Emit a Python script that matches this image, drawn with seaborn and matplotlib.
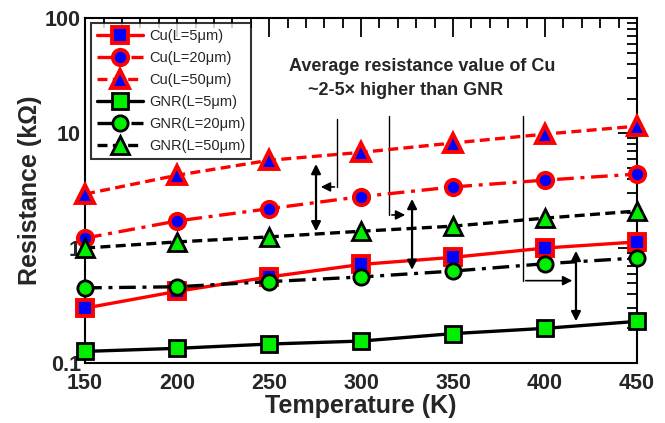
import numpy as np
import pandas as pd
import matplotlib
matplotlib.use("Agg")
import matplotlib.pyplot as plt
import seaborn as sns
from matplotlib.ticker import LogLocator, FixedLocator, MultipleLocator, NullFormatter

sns.set_style("white")
plt.rcParams['font.family'] = ['Liberation Sans', 'DejaVu Sans']

temperature = [150, 200, 250, 300, 350, 400, 450]
cu_5 = [0.30, 0.42, 0.56, 0.72, 0.83, 1.0, 1.13]
cu_20 = [1.22, 1.72, 2.2, 2.8, 3.4, 3.9, 4.4]
cu_50 = [2.95, 4.3, 5.8, 6.8, 8.2, 9.8, 11.5]
gnr_5 = [0.126, 0.134, 0.146, 0.155, 0.18, 0.20, 0.23]
gnr_20 = [0.45, 0.46, 0.51, 0.56, 0.63, 0.73, 0.82]
gnr_50 = [1.0, 1.13, 1.25, 1.4, 1.55, 1.82, 2.1]

labels = ["Cu(L=5μm)", "Cu(L=20μm)", "Cu(L=50μm)",
          "GNR(L=5μm)", "GNR(L=20μm)", "GNR(L=50μm)"]
series = [cu_5, cu_20, cu_50, gnr_5, gnr_20, gnr_50]

xticks = [150, 200, 250, 300, 350, 400, 450]
yticks = [0.1, 1, 10, 100]
ytick_labels = ["0.1", "1", "10", "100"]

annotation = ["Average resistance value of Cu", "~2-5× higher than GNR"]

styles = [
    dict(color="red", linestyle="-", marker="s", mfc="blue", mec="red"),
    dict(color="red", linestyle=(0, (5, 2, 1.2, 2)), marker="o", mfc="blue", mec="red"),
    dict(color="red", linestyle=(0, (3, 1.6)), marker="^", mfc="blue", mec="red"),
    dict(color="black", linestyle="-", marker="s", mfc="#00ee00", mec="black"),
    dict(color="black", linestyle=(0, (5, 2, 1.2, 2)), marker="o", mfc="#00ee00", mec="black"),
    dict(color="black", linestyle=(0, (3, 1.6)), marker="^", mfc="#00ee00", mec="black"),
]

rows = []
for lab, vals in zip(labels, series):
    for t, v in zip(temperature, vals):
        rows.append(dict(T=t, R=v, series=lab))
df = pd.DataFrame(rows)

fig = plt.figure(figsize=(6.65, 4.23), dpi=100)
ax = fig.add_axes([0.128, 0.142, 0.830, 0.815])

for lab, st in zip(labels, styles):
    sub = df[df["series"] == lab]
    sns.lineplot(data=sub, x="T", y="R", ax=ax, color=st["color"],
                 linestyle=st["linestyle"], marker=st["marker"],
                 markerfacecolor=st["mfc"], markeredgecolor=st["mec"],
                 markersize=11 if st["marker"] != "^" else 12.5,
                 markeredgewidth=2.8 if st["color"] == "red" else 2.0,
                 linewidth=2.4, label=lab, clip_on=False, zorder=3)

ax.set_yscale("log")
ax.set_xlim(150, 450)
ax.set_ylim(0.1, 100)
ax.xaxis.set_major_locator(FixedLocator(xticks))
ax.xaxis.set_minor_locator(MultipleLocator(10))
ax.set_xticklabels([str(t) for t in xticks])
ax.yaxis.set_major_locator(FixedLocator(yticks))
ax.set_yticklabels(ytick_labels)
ax.yaxis.set_minor_locator(LogLocator(base=10, subs=np.arange(2, 10)))
ax.yaxis.set_minor_formatter(NullFormatter())

ax.tick_params(which="both", direction="in", top=True, right=True,
               color="black", width=1.3)
ax.tick_params(which="major", length=14, labelsize=15.5)
ax.tick_params(axis="x", which="major", pad=7)
ax.tick_params(axis="y", which="major", pad=3)
ax.tick_params(which="minor", length=7)
for lbl in ax.get_xticklabels() + ax.get_yticklabels():
    lbl.set_fontweight("bold")
for sp in ax.spines.values():
    sp.set_color("black")
    sp.set_linewidth(1.5)

ax.set_xlabel("Temperature (K)", fontsize=18, fontweight="bold", labelpad=0)
ax.set_ylabel("Resistance (kΩ)", fontsize=18, fontweight="bold", labelpad=2)

leg = ax.legend(loc="upper left", bbox_to_anchor=(0.005, 0.995), fontsize=10.5,
                frameon=True, fancybox=False, edgecolor="black",
                handlelength=3.2, borderpad=0.4, labelspacing=0.55,
                handletextpad=0.4, borderaxespad=0.2)
leg.get_frame().set_linewidth(1.5)

ax.text(333, 38, annotation[0], ha="center", va="center", fontsize=13,
        fontweight="bold")
ax.text(324, 23.5, annotation[1], ha="center", va="center", fontsize=13,
        fontweight="bold")

arrow_kw = dict(arrowstyle="-|>", color="black", lw=1.2, mutation_scale=14)
dbl_kw = dict(arrowstyle="<|-|>", color="black", lw=1.6, mutation_scale=14)

# bracket 1
ax.plot([287, 287], [13.2, 3.4], color="black", lw=1.0)
ax.annotate("", xy=(276.6, 3.4), xytext=(287, 3.4), arrowprops=arrow_kw)
ax.annotate("", xy=(275.5, 5.7), xytext=(275.5, 1.32), arrowprops=dbl_kw)
# bracket 2
ax.plot([315.2, 315.2], [14.0, 1.94], color="black", lw=1.0)
ax.annotate("", xy=(325.5, 1.94), xytext=(315.2, 1.94), arrowprops=arrow_kw)
ax.annotate("", xy=(327.7, 2.83), xytext=(327.7, 0.61), arrowprops=dbl_kw)
# bracket 3
ax.plot([388, 388], [14.0, 0.52], color="black", lw=1.0)
ax.annotate("", xy=(416.3, 0.52), xytext=(388, 0.52), arrowprops=arrow_kw)
ax.annotate("", xy=(416.8, 1.0), xytext=(416.8, 0.218), arrowprops=dbl_kw)

fig.savefig("out.png", dpi=100)
